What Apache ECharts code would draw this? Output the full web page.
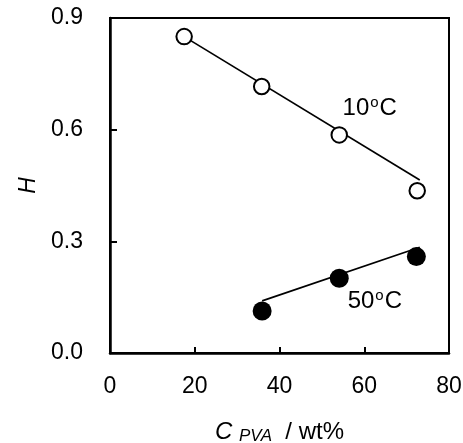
<!DOCTYPE html>
<html><head><meta charset="utf-8">
<script src="https://cdn.jsdelivr.net/npm/echarts@6/dist/echarts.min.js"></script>
<style>html,body{margin:0;padding:0;background:#fff}#c{width:463px;height:443px}</style>
</head><body><div id="c"></div>
<script>
// Data
var cpva10 = [17.5, 35.8, 54.1, 72.5];
var h10 = [0.85, 0.716, 0.586, 0.436];
var cpva50 = [35.9, 54.1, 72.3];
var h50 = [0.113, 0.201, 0.259];
var fit10X = [17.5, 73.1];
var fit10Y = [0.85, 0.465];
var fit50X = [35.9, 73.1];
var fit50Y = [0.14, 0.284];
var xTicks = [0, 20, 40, 60, 80];
var yTicks = [0.0, 0.3, 0.6, 0.9];
var annText = ['10', '50'];
var annX = [61.3, 62.5];
var annY = [0.658, 0.138];

function pairs(xs, ys){ return xs.map(function(x,i){return [x, ys[i]];}); }
var FONT = "'Liberation Sans', Arial, sans-serif";
var chart = echarts.init(document.getElementById('c'));
chart.setOption({
  backgroundColor: '#fff',
  animation: false,
  grid: {left: 110, right: 14, top: 18, bottom: 90, outerBoundsMode: 'none', containLabel: false,
    show: true, borderColor: '#000', borderWidth: 2, backgroundColor: 'transparent'},
  xAxis: {
    type: 'value', min: xTicks[0], max: xTicks[xTicks.length-1], interval: 20,
    axisLine: {show: true, onZero: false, lineStyle: {color: '#000', width: 2.5}},
    axisTick: {show: true, inside: true, length: 6, lineStyle: {color: '#000', width: 2}},
    splitLine: {show: false},
    axisLabel: {color: '#000', fontSize: 23, fontFamily: FONT, margin: 22},
    name: '{i|C} {sub|PVA}  / wt%',
    nameLocation: 'middle', nameGap: 66,
    nameTextStyle: {color: '#000', fontSize: 24, fontFamily: FONT, verticalAlign: 'top', lineHeight: 26,
      rich: {
        i: {fontStyle: 'italic', fontSize: 24, fontFamily: FONT, color: '#000', lineHeight: 26},
        sub: {fontStyle: 'italic', fontSize: 17, fontFamily: FONT, color: '#000', verticalAlign: 'bottom', lineHeight: 17, padding: [10,0,0,0]}
      }}
  },
  yAxis: {
    type: 'value', min: yTicks[0], max: yTicks[yTicks.length-1], interval: 0.3,
    axisLine: {show: true, onZero: false, lineStyle: {color: '#000', width: 2.5}},
    axisTick: {show: true, inside: true, length: 7, lineStyle: {color: '#000', width: 2}},
    splitLine: {show: false},
    axisLabel: {color: '#000', fontSize: 23, fontFamily: FONT, margin: 27, formatter: function(v){return v.toFixed(1);}},
    name: 'H', nameLocation: 'middle', nameGap: 67,
    nameTextStyle: {color: '#000', fontSize: 23, fontStyle: 'italic', fontFamily: FONT}
  },
  series: [
    {type: 'line', data: pairs(fit10X, fit10Y), symbol: 'none', lineStyle: {color: '#000', width: 1.7}, z: 2},
    {type: 'line', data: pairs(fit50X, fit50Y), symbol: 'none', lineStyle: {color: '#000', width: 1.7}, z: 2},
    {type: 'scatter', data: pairs(cpva10, h10), symbol: 'circle', symbolSize: 15.5,
      itemStyle: {color: '#fff', borderColor: '#000', borderWidth: 2, opacity: 1}, z: 3},
    {type: 'scatter', data: pairs(cpva50, h50), symbol: 'circle', symbolSize: 19,
      itemStyle: {color: '#000', opacity: 1}, z: 3},
    {type: 'scatter', data: pairs(annX, annY).map(function(p,i){return {value: p, name: annText[i]};}),
      symbolSize: 0, silent: true, z: 4,
      label: {show: true, position: 'inside', color: '#000', opacity: 1, textBorderWidth: 0, fontSize: 24, fontFamily: FONT, lineHeight: 26,
        formatter: function(p){ return p.name + '{s|o}C'; },
        rich: {s: {fontSize: 15, fontFamily: FONT, color: '#000', verticalAlign: 'top', lineHeight: 15, padding: [0,1,0,1]}}
      }}
  ]
});
</script></body></html>
